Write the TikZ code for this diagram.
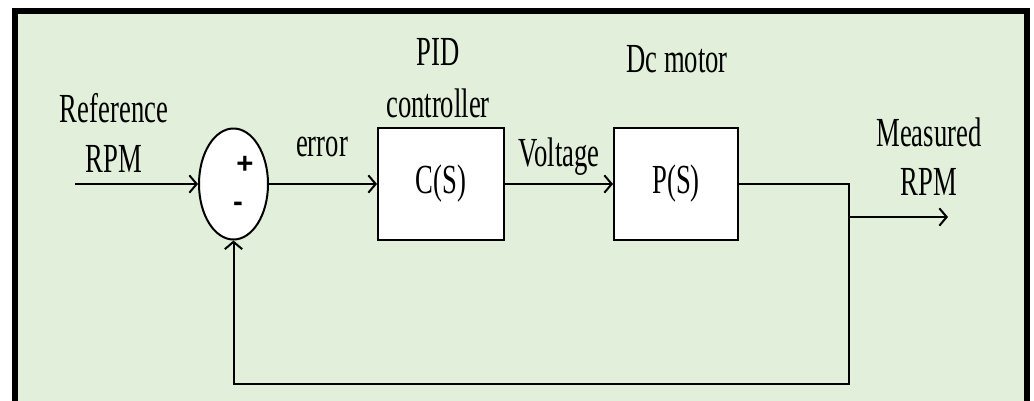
\documentclass[tikz,border=0pt]{standalone}
\usepackage{fontspec}
\setmainfont{Liberation Serif}[FakeStretch=0.645]
\newfontfamily\signfont{Liberation Sans}
\usetikzlibrary{arrows.meta,shapes.geometric}
\definecolor{bgreen}{RGB}{226,239,218}
\begin{document}
\begin{tikzpicture}[x=0.75pt,y=-0.75pt,
  lbl/.style={font=\fontsize{31}{36}\selectfont, inner sep=0pt, anchor=base},
  sign/.style={font=\signfont\bfseries\fontsize{22}{26}\selectfont, inner sep=0pt},
  blk/.style={draw, fill=white, line width=1.5pt, minimum height=84pt, inner sep=0pt,
              font=\fontsize{31}{36}\selectfont},
  sig/.style={line width=1.5pt, line join=miter, -{Straight Barb[length=5.5pt,width=13pt]}}]
\useasboundingbox (0,0) rectangle (1034,400);
\clip (0,0) rectangle (1034,400);
% frame
\fill[black] (12,8) rectangle (1030,420);
\fill[bgreen] (18,14) rectangle (1024,420);
% blocks
\node[draw, ellipse, fill=white, line width=1.5pt, minimum width=51.75pt,
      minimum height=83.25pt, inner sep=0pt] (sum) at (233.5,184) {};
\node[blk, minimum width=94.5pt] (cs) at (441,184) {C(S)};
\node[blk, minimum width=93pt] (ps) at (676,184) {P(S)};
% signs
\node[sign] (plus) at (245,165) {+};
\node[sign] (minus) at (238,207) {-};
% labels
\node[lbl] (ref1) at (114,122) {Reference};
\node[lbl] (ref2) at (114,172) {RPM};
\node[lbl] (err) at (322,156) {error};
\node[lbl] (pid1) at (438,65) {PID};
\node[lbl] (pid2) at (438,117) {controller};
\node[lbl] (volt) at (559,166) {Voltage};
\node[lbl] (dc) at (677,72) {Dc motor};
\node[lbl] (meas1) at (929,146) {Measured};
\node[lbl] (meas2) at (929,195) {RPM};
% connector points
\coordinate (in) at (75,184);
\coordinate (split) at (849,184);
\coordinate (fb) at (849,384);
\coordinate (tap) at (849,217);
\coordinate (out) at (948,217);
% connectors
\draw[sig] (in) -- (sum.west);
\draw[sig] (sum.east) -- (cs.west);
\draw[sig] (cs.east) -- (ps.west);
\draw[sig] (ps.east) -- (split) -- (fb) -| (sum.south);
\draw[sig] (tap) -- (out);
\end{tikzpicture}
\end{document}
